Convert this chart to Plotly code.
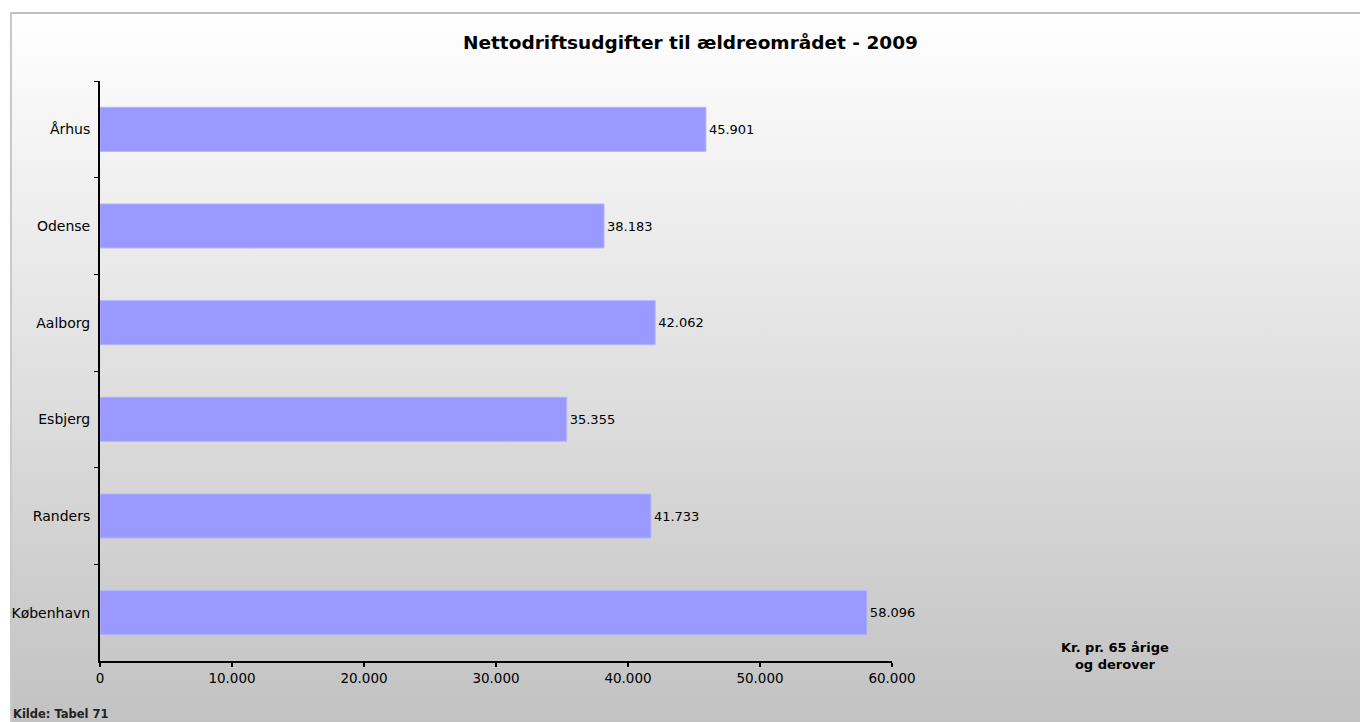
import base64
import plotly.graph_objects as go

# Data
kommuner = ["Århus", "Odense", "Aalborg", "Esbjerg", "Randers", "København"]
udgifter = [45901, 38183, 42062, 35355, 41733, 58096]
x_ticks = [0, 10000, 20000, 30000, 40000, 50000, 60000]

W, H = 1360, 722
L, R, T, B = 100, 892, 81, 661  # plot area in px

def px_x(p):
    return (p - L) / (R - L)

def px_y(p):
    return (B - p) / (B - T)

# Gradient background frame as SVG
fw, fh = W - 10, H - 12
svg = f'''<svg xmlns="http://www.w3.org/2000/svg" width="{fw}" height="{fh}" viewBox="0 0 {fw} {fh}">
<defs><linearGradient id="g" x1="0" y1="0" x2="0" y2="1">
<stop offset="0" stop-color="#ffffff"/><stop offset="1" stop-color="#c2c2c2"/></linearGradient></defs>
<rect x="0" y="0" width="{fw}" height="{fh}" fill="url(#g)"/>
<line x1="0" y1="1" x2="{fw}" y2="1" stroke="#c0c0c0" stroke-width="2"/>
<line x1="1" y1="0" x2="1" y2="{fh}" stroke="#c8c8c8" stroke-width="2"/>
</svg>'''
src = "data:image/svg+xml;base64," + base64.b64encode(svg.encode()).decode()

fig = go.Figure()
fig.add_trace(go.Bar(
    y=kommuner, x=udgifter, orientation="h",
    marker=dict(color="#9999ff", line=dict(color="#b3b3ff", width=1)),
    width=0.455,
    text=udgifter, texttemplate="%{x:,}", textposition="outside",
    textfont=dict(family="DejaVu Sans", size=13, color="#000000"),
    cliponaxis=False, hoverinfo="skip",
))

fig.update_layout(
    width=W, height=H,
    margin=dict(l=L, r=W - R, t=T, b=H - B, pad=0),
    paper_bgcolor="#ffffff", plot_bgcolor="rgba(0,0,0,0)",
    separators=",.",
    showlegend=False,
    font=dict(family="DejaVu Sans", size=13, color="#000000"),
    images=[dict(source=src, xref="paper", yref="paper",
                 x=px_x(10), y=px_y(12), sizex=px_x(W) - px_x(10), sizey=px_y(12) - px_y(H),
                 xanchor="left", yanchor="top", sizing="stretch", layer="below")],
    xaxis=dict(range=[0, 60000], tickvals=x_ticks, tickformat=",d",
               showgrid=False, zeroline=False, showline=True, linecolor="#000000", linewidth=2,
               ticks="outside", ticklen=4, tickwidth=2, tickcolor="#000000",
               tickfont=dict(family="DejaVu Sans", size=13.5)),
    yaxis=dict(categoryorder="array", categoryarray=kommuner, autorange="reversed",
               showgrid=False, zeroline=False, showline=True, linecolor="#000000", linewidth=2,
               ticks="outside", ticklen=4, tickwidth=1, tickcolor="#000000", tickson="boundaries",
               ticklabelstandoff=5,
               tickfont=dict(family="DejaVu Sans", size=14)),
    annotations=[
        dict(text="<b>Nettodriftsudgifter til ældreområdet - 2009</b>", xref="paper", yref="paper",
             x=px_x(690), y=px_y(42), xanchor="center", yanchor="middle", showarrow=False,
             font=dict(family="DejaVu Sans", size=18.5, color="#000000")),
        dict(text="<b>Kr. pr. 65 årige<br>og derover</b>", xref="paper", yref="paper",
             x=px_x(1115), y=px_y(656), xanchor="center", yanchor="middle", showarrow=False,
             font=dict(family="DejaVu Sans", size=13, color="#000000")),
        dict(text="<b>Kilde: Tabel 71</b>", xref="paper", yref="paper",
             x=px_x(11), y=px_y(714), xanchor="left", yanchor="middle", showarrow=False,
             font=dict(family="DejaVu Sans", size=11.5, color="#222222")),
    ],
)

fig.write_html("out.html", config={"displayModeBar": False},
               post_script="document.body.style.margin='0';document.body.style.overflow='hidden';")
